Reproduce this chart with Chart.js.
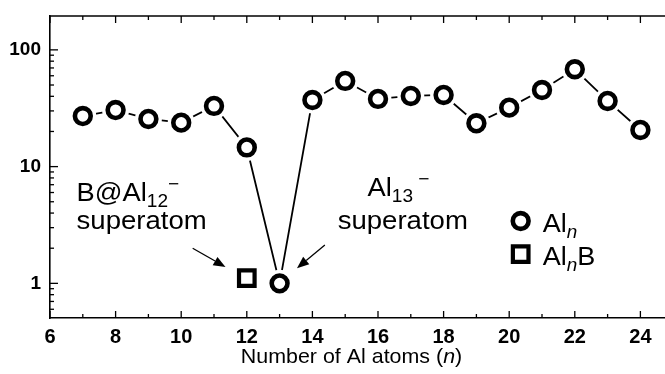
<!DOCTYPE html>
<html>
<head>
<meta charset="utf-8">
<script src="https://cdn.jsdelivr.net/npm/chart.js@4.4.0/dist/chart.umd.min.js"></script>
<style>
html, body { margin: 0; padding: 0; background: #fff; overflow: hidden; }
#chart { display: block; }
</style>
</head>
<body>
<canvas id="chart" width="665" height="374"></canvas>
<script>
// cluster sizes n and relative values
var atomCounts = [7, 8, 9, 10, 11, 12, 13, 14, 15, 16, 17, 18, 19, 20, 21, 22, 23, 24];
var alnValues = [27.1, 30.5, 25.6, 23.8, 33.1, 14.6, 1.0, 37.2, 54.2, 38.0, 40.3, 41.1, 23.5, 32.0, 45.3, 68.2, 36.5, 20.6];
var alnbCounts = [12];
var alnbValues = [1.11];
var xTickValues = [6, 8, 10, 12, 14, 16, 18, 20, 22, 24];
var yTickValues = [1, 10, 100];

var FONT = '"Liberation Sans", Arial, sans-serif';

function toPoints(xs, ys) {
  return xs.map(function (x, i) { return { x: x, y: ys[i] }; });
}

// text with sub/superscripts, stretched by sx
function drawRich(ctx, parts, x, y, size, sx) {
  ctx.save();
  ctx.translate(x, y);
  ctx.scale(sx, 1);
  ctx.fillStyle = '#000';
  ctx.textBaseline = 'alphabetic';
  ctx.textAlign = 'left';
  var cx = 0;
  parts.forEach(function (p) {
    var fs = (p.sub || p.sup) ? size * 0.7 : size;
    ctx.font = (p.it ? 'italic ' : '') + fs + 'px ' + FONT;
    var dy = p.sub ? size * 0.22 : (p.sup ? -size * 0.42 : 0);
    ctx.fillText(p.t, cx, dy);
    cx += ctx.measureText(p.t).width;
  });
  ctx.restore();
}

function richWidth(ctx, parts, size) {
  ctx.save();
  var w = 0;
  parts.forEach(function (p) {
    var fs = (p.sub || p.sup) ? size * 0.7 : size;
    ctx.font = (p.it ? 'italic ' : '') + fs + 'px ' + FONT;
    w += ctx.measureText(p.t).width;
  });
  ctx.restore();
  return w;
}

function arrow(ctx, x1, y1, x2, y2) {
  var a = Math.atan2(y2 - y1, x2 - x1);
  var len = 12, half = 4.8;
  var bx = x2 - len * Math.cos(a), by = y2 - len * Math.sin(a);
  ctx.save();
  ctx.strokeStyle = '#000';
  ctx.fillStyle = '#000';
  ctx.lineWidth = 1.3;
  ctx.beginPath();
  ctx.moveTo(x1, y1);
  ctx.lineTo(bx, by);
  ctx.stroke();
  ctx.beginPath();
  ctx.moveTo(x2, y2);
  ctx.lineTo(bx + half * Math.sin(a), by - half * Math.cos(a));
  ctx.lineTo(bx - half * Math.sin(a), by + half * Math.cos(a));
  ctx.closePath();
  ctx.fill();
  ctx.restore();
}

// the plot frame runs off the right edge of the figure
var stretchRight = {
  id: 'stretchRight',
  afterLayout: function (chart) {
    var xs = chart.scales.x, ca = chart.chartArea;
    xs.right = chart.width;
    xs.width = xs.right - xs.left;
    xs.configure();
    ca.right = chart.width;
    ca.width = ca.right - ca.left;
  }
};

var decor = {
  id: 'decor',
  afterDraw: function (chart) {
    var ctx = chart.ctx;
    var xs = chart.scales.x, ys = chart.scales.y;
    var ca = chart.chartArea;
    ctx.save();
    ctx.strokeStyle = '#000';

    // top frame line
    ctx.lineWidth = 1.6;
    ctx.beginPath();
    ctx.moveTo(ca.left, ca.top);
    ctx.lineTo(ca.right, ca.top);
    ctx.stroke();

    // inward ticks on bottom and top
    ctx.lineWidth = 1.3;
    for (var v = 6; v <= 25; v++) {
      var px = xs.getPixelForValue(v);
      if (px > ca.right) break;
      var l = (v % 2 === 0) ? 7 : 4;
      ctx.beginPath();
      ctx.moveTo(px, ca.bottom);
      ctx.lineTo(px, ca.bottom - l);
      ctx.moveTo(px, ca.top);
      ctx.lineTo(px, ca.top + l);
      ctx.stroke();
    }
    // inward ticks on left (log)
    [0.1, 1, 10, 100].forEach(function (d) {
      for (var k = 1; k <= 9; k++) {
        var val = k * d;
        if (val < ys.min - 1e-9 || val > ys.max + 1e-9) continue;
        var py = ys.getPixelForValue(val);
        var l = (k === 1) ? 8 : 4;
        ctx.beginPath();
        ctx.moveTo(ca.left, py);
        ctx.lineTo(ca.left + l, py);
        ctx.stroke();
      }
    });
    ctx.restore();

    // annotations
    var P = function (x, y) { return [xs.getPixelForValue(x), ys.getPixelForValue(y)]; };
    var a = P(6.81, 5.07);
    drawRich(ctx, [{ t: 'B@Al' }, { t: '12', sub: true }, { t: '\u2212', sup: true }], a[0], a[1], 26, 1.05);
    a = P(6.81, 2.92);
    drawRich(ctx, [{ t: 'superatom' }], a[0], a[1], 26, 1.06);
    a = P(15.68, 5.6);
    drawRich(ctx, [{ t: 'Al' }, { t: '13 ', sub: true }, { t: '\u2212', sup: true }], a[0], a[1], 26, 1.05);
    a = P(14.77, 2.92);
    drawRich(ctx, [{ t: 'superatom' }], a[0], a[1], 26, 1.06);

    var s = P(10.35, 2.0), e = P(11.35, 1.38);
    arrow(ctx, s[0], s[1], e[0], e[1]);
    s = P(14.38, 2.13); e = P(13.53, 1.35);
    arrow(ctx, s[0], s[1], e[0], e[1]);

    // legend
    ctx.save();
    ctx.strokeStyle = '#000';
    ctx.fillStyle = '#fff';
    var c = P(20.35, 3.42);
    ctx.lineWidth = 4.6;
    ctx.beginPath();
    ctx.arc(c[0], c[1], 7.9, 0, Math.PI * 2);
    ctx.fill();
    ctx.stroke();
    var q = P(20.35, 1.78);
    ctx.lineWidth = 4.2;
    ctx.beginPath();
    ctx.rect(q[0] - 7.8, q[1] - 7.8, 15.6, 15.6);
    ctx.fill();
    ctx.stroke();
    ctx.restore();
    var tx = xs.getPixelForValue(21.02);
    drawRich(ctx, [{ t: 'Al' }, { t: 'n', sub: true, it: true }], tx, c[1] + 11, 26, 1.04);
    drawRich(ctx, [{ t: 'Al' }, { t: 'n', sub: true, it: true }, { t: 'B' }], tx, q[1] + 11, 26, 1.04);

    // x axis title
    var parts = [{ t: 'Number of Al atoms (' }, { t: 'n', it: true }, { t: ')' }];
    var sx = 1.02;
    var w = richWidth(ctx, parts, 21) * sx;
    drawRich(ctx, parts, 351.5 - w / 2, 363, 21, sx);
  }
};

var chart = new Chart(document.getElementById('chart').getContext('2d'), {
  type: 'scatter',
  data: {
    datasets: [
      {
        label: 'line',
        data: toPoints(atomCounts, alnValues),
        showLine: true,
        borderColor: '#000',
        borderWidth: 1.8,
        pointRadius: 0,
        order: 3
      },
      {
        label: 'halo',
        data: toPoints(atomCounts, alnValues),
        showLine: false,
        pointRadius: 13.5,
        pointBorderWidth: 0,
        pointBackgroundColor: '#fff',
        pointBorderColor: '#fff',
        order: 2
      },
      {
        label: 'Al_n',
        data: toPoints(atomCounts, alnValues),
        showLine: false,
        pointRadius: 7.9,
        pointBorderWidth: 4.6,
        pointBorderColor: '#000',
        pointBackgroundColor: '#fff',
        order: 1
      },
      {
        label: 'Al_nB',
        data: toPoints(alnbCounts, alnbValues),
        showLine: false,
        pointStyle: 'rect',
        pointRadius: 11,
        pointBorderWidth: 4.2,
        pointBorderColor: '#000',
        pointBackgroundColor: '#fff',
        order: 1
      }
    ]
  },
  options: {
    responsive: false,
    animation: false,
    devicePixelRatio: 1,
    layout: { padding: { top: 16, right: 0, left: 0, bottom: 0 } },
    plugins: { legend: { display: false }, tooltip: { enabled: false } },
    elements: { point: { hoverRadius: 0 } },
    scales: {
      x: {
        type: 'linear',
        min: 6,
        max: 24.75,
        afterBuildTicks: function (s) { s.ticks = xTickValues.map(function (v) { return { value: v }; }); },
        afterFit: function (s) { s.height = 56; s.paddingLeft = 0; s.paddingRight = 0; },
        grid: { display: false, drawTicks: false },
        border: { display: true, color: '#000', width: 1.6 },
        ticks: {
          color: '#000',
          padding: 7,
          maxRotation: 0,
          autoSkip: false,
          font: { family: FONT, size: 20, weight: 'bold' },
          callback: function (v) { return String(v); }
        }
      },
      y: {
        type: 'logarithmic',
        min: 0.505,
        max: 195,
        afterBuildTicks: function (s) { s.ticks = yTickValues.map(function (v) { return { value: v }; }); },
        afterFit: function (s) { s.width = 50; s.paddingTop = 0; s.paddingBottom = 0; },
        grid: { display: false, drawTicks: false },
        border: { display: true, color: '#000', width: 1.6 },
        ticks: {
          color: '#000',
          padding: 9,
          autoSkip: false,
          font: { family: FONT, size: 19, weight: 'bold' },
          callback: function (v) { return String(v); }
        }
      }
    }
  },
  plugins: [stretchRight, decor]
});
</script>
</body>
</html>
